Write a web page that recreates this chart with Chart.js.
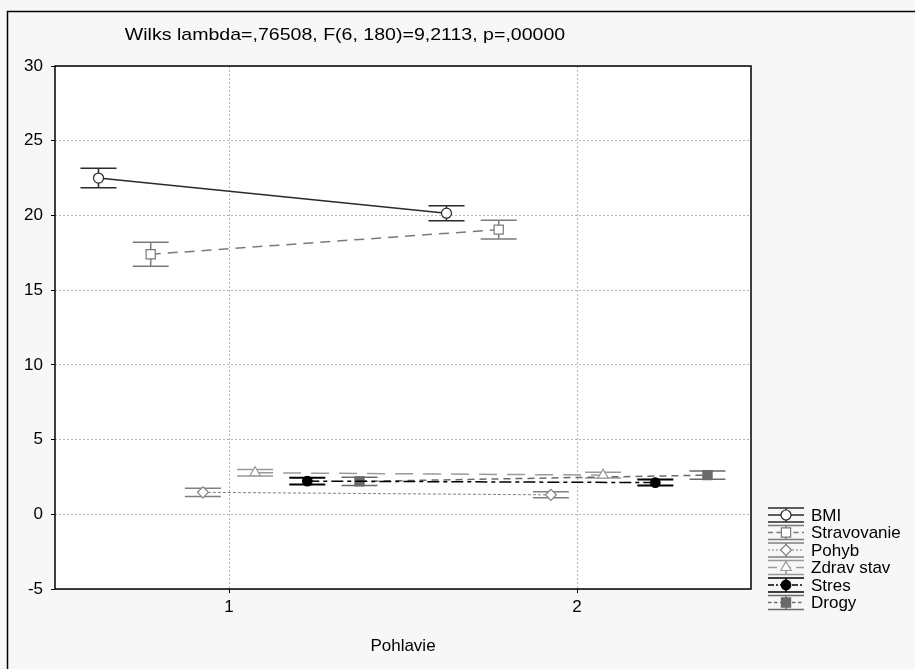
<!DOCTYPE html>
<html>
<head>
<meta charset="utf-8">
<script src="https://cdn.jsdelivr.net/npm/chart.js@4.4.0/dist/chart.umd.min.js"></script>
<style>
  html, body { margin: 0; padding: 0; background: #f7f7f7; }
  #wrap { width: 915px; height: 669px; }
</style>
</head>
<body>
<div id="wrap"><canvas id="chart" width="915" height="669"></canvas></div>
<script>
// ---- data ----
const groups = [1, 2];                 // Pohlavie
const seriesNames = ["BMI", "Stravovanie", "Pohyb", "Zdrav stav", "Stres", "Drogy"];

const bmi         = [22.5, 20.15];
const stravovanie = [17.4, 19.05];
const pohyb       = [1.47, 1.3];
const zdravStav   = [2.78, 2.62];
const stres       = [2.22, 2.12];
const drogy       = [2.2, 2.62];

// half length of the whiskers
const bmiErr         = [0.65, 0.5];
const stravovanieErr = [0.8, 0.63];
const pohybErr       = [0.28, 0.2];
const zdravStavErr   = [0.22, 0.2];
const stresErr       = [0.22, 0.2];
const drogyErr       = [0.28, 0.27];

const yTicks = [-5, 0, 5, 10, 15, 20, 25, 30];
const titleText = "Wilks lambda=,76508, F(6, 180)=9,2113, p=,00000";

// ---- look ----
const seriesValues = [bmi, stravovanie, pohyb, zdravStav, stres, drogy];
const seriesErrors = [bmiErr, stravovanieErr, pohybErr, zdravStavErr, stresErr, drogyErr];
const dodge = [-0.375, -0.225, -0.075, 0.075, 0.225, 0.375];
const looks = [
  { color: "#2a2a2a", dash: [],            width: 1.5, shape: "circle",   radius: 5,   fill: "#ffffff" },
  { color: "#7a7a7a", dash: [10, 7],       width: 1.5, shape: "rect",     radius: 6.5, fill: "#ffffff" },
  { color: "#808080", dash: [3, 2],        width: 1,   shape: "rectRot",  radius: 5.5, fill: "#ffffff" },
  { color: "#9a9a9a", dash: [18, 10],      width: 1.5, shape: "triangle", radius: 6,   fill: "#ffffff" },
  { color: "#000000", dash: [12, 4, 4, 4], width: 1.5, shape: "circle",   radius: 4.8, fill: "#000000" },
  { color: "#6a6a6a", dash: [7, 5],        width: 1.5, shape: "rect",     radius: 6.5, fill: "#6a6a6a" },
];
const FONT = '"Liberation Sans", Arial, sans-serif';

const datasets = seriesNames.map((name, i) => ({
  label: name,
  data: groups.map((g, j) => ({ x: g + dodge[i], y: seriesValues[i][j] })),
  borderColor: looks[i].color,
  borderDash: looks[i].dash,
  borderWidth: looks[i].width,
  pointStyle: looks[i].shape,
  pointRadius: looks[i].radius,
  pointBackgroundColor: looks[i].fill,
  pointBorderColor: looks[i].color,
  pointBorderWidth: 1.2,
  tension: 0,
  fill: false,
}));

// background, frames, whiskers, title and legend
const decor = {
  id: "decor",
  beforeDraw(chart) {
    const { ctx, chartArea: a } = chart;
    ctx.save();
    ctx.fillStyle = "#f7f7f7";
    ctx.fillRect(0, 0, chart.width, chart.height);
    ctx.strokeStyle = "#000";
    ctx.lineWidth = 1.5;
    ctx.strokeRect(7.5, 11.5, chart.width, chart.height);
    ctx.fillStyle = "#ffffff";
    ctx.fillRect(a.left, a.top, a.right - a.left, a.bottom - a.top);
    ctx.restore();
  },
  beforeDatasetsDraw(chart) {
    const { ctx, chartArea: a } = chart;
    const ys = chart.scales.y;
    ctx.save();
    ctx.strokeStyle = "#000";
    ctx.lineWidth = 1.5;
    ctx.strokeRect(a.left, a.top, a.right - a.left, a.bottom - a.top);
    // whiskers
    seriesErrors.forEach((errs, i) => {
      const meta = chart.getDatasetMeta(i);
      ctx.strokeStyle = looks[i].color;
      ctx.lineWidth = i === 4 ? 2 : 1.5;
      ctx.setLineDash([]);
      meta.data.forEach((pt, j) => {
        const v = seriesValues[i][j];
        const top = ys.getPixelForValue(v + errs[j]);
        const bot = ys.getPixelForValue(v - errs[j]);
        ctx.beginPath();
        ctx.moveTo(pt.x, top); ctx.lineTo(pt.x, bot);
        ctx.moveTo(pt.x - 18, top); ctx.lineTo(pt.x + 18, top);
        ctx.moveTo(pt.x - 18, bot); ctx.lineTo(pt.x + 18, bot);
        ctx.stroke();
      });
    });
    ctx.restore();
  },
  afterDraw(chart) {
    const { ctx } = chart;
    ctx.save();
    ctx.fillStyle = "#000";
    ctx.font = "17px " + FONT;
    ctx.textAlign = "center";
    ctx.textBaseline = "middle";
    ctx.translate(345, 35);
    ctx.scale(1.15, 1);
    ctx.fillText(titleText, 0, 0);
    ctx.restore();

    // legend
    ctx.save();
    ctx.font = "17px " + FONT;
    ctx.textAlign = "left";
    ctx.textBaseline = "middle";
    seriesNames.forEach((name, i) => {
      const y = 515 + i * 17.5;
      const lk = looks[i];
      ctx.strokeStyle = lk.color;
      ctx.lineWidth = 1.5;
      ctx.setLineDash([]);
      ctx.beginPath();
      ctx.moveTo(768, y - 7); ctx.lineTo(804, y - 7);
      ctx.moveTo(768, y + 7); ctx.lineTo(804, y + 7);
      ctx.moveTo(786, y - 7); ctx.lineTo(786, y + 7);
      ctx.stroke();
      ctx.setLineDash(lk.dash.length ? lk.dash.map(d => Math.max(2, d / 2)) : []);
      ctx.lineWidth = lk.width;
      ctx.beginPath();
      ctx.moveTo(768, y); ctx.lineTo(804, y);
      ctx.stroke();
      ctx.setLineDash([]);
      ctx.fillStyle = lk.fill;
      ctx.lineWidth = 1.2;
      Chart.helpers.drawPoint(ctx, { pointStyle: lk.shape, radius: lk.radius, rotation: 0, borderWidth: 1.2 }, 786, y);
      ctx.fillStyle = "#000";
      ctx.fillText(name, 811, y + 1);
    });
    ctx.restore();
  },
};

new Chart(document.getElementById("chart"), {
  type: "line",
  data: { datasets: datasets },
  options: {
    responsive: false,
    animation: false,
    devicePixelRatio: 1,
    layout: { padding: { top: 66, left: 0, right: 164, bottom: 0 } },
    plugins: { legend: { display: false }, title: { display: false }, tooltip: { enabled: false } },
    scales: {
      x: {
        type: "linear",
        min: 0.5,
        max: 2.5,
        afterBuildTicks: s => { s.ticks = groups.map(v => ({ value: v })); },
        afterFit: s => { s.height = 80; },
        grid: { color: "#b4b4b4", tickColor: "#000", tickLength: 4, lineWidth: 1 },
        border: { display: false, dash: [2, 2] },
        ticks: { color: "#000", font: { family: FONT, size: 17 }, padding: 4, callback: v => String(v) },
        title: { display: true, text: "Pohlavie", color: "#000", font: { family: FONT, size: 17 }, padding: { top: 0, bottom: 12 } },
      },
      y: {
        type: "linear",
        min: -5,
        max: 30,
        afterBuildTicks: s => { s.ticks = yTicks.map(v => ({ value: v })); },
        afterFit: s => { s.width = 55; },
        grid: { color: "#b4b4b4", tickColor: "#000", tickLength: 4, lineWidth: 1 },
        border: { display: false, dash: [2, 2] },
        ticks: { color: "#000", font: { family: FONT, size: 17 }, padding: 8 },
      },
    },
  },
  plugins: [decor],
});
</script>
</body>
</html>
